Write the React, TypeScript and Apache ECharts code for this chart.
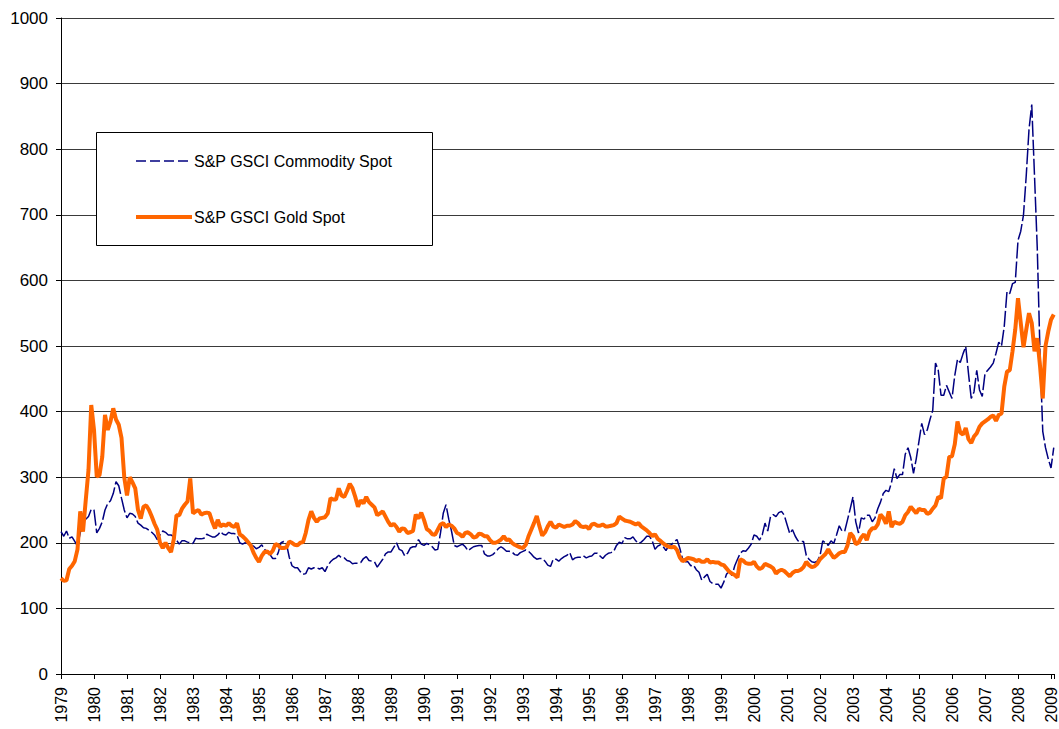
import React, { useEffect, useRef } from 'react';
import * as echarts from 'echarts';

// ---- Data (monthly index levels, Jan 1979 .. Feb 2009) ----
const START_YEAR = 1979;
const X_MIN = 1979;
const X_MAX = 2009.1;
const Y_MIN = 0;
const Y_MAX = 1000;
const Y_STEP = 100;

const seriesNames = ['S&P GSCI Commodity Spot', 'S&P GSCI Gold Spot'];
const seriesColors = ['#000080', '#FF6600'];

const commoditySpot: number[] = [
  // 1979
  217, 210, 218, 207, 209, 202, 195, 215, 234, 236, 240, 251,
  // 1980
  250, 215, 222, 232, 250, 260, 264, 275, 293, 287, 268, 250,
  // 1981
  238, 245, 244, 240, 230, 227, 223, 222, 219, 216, 212, 205,
  // 1982
  212, 218, 216, 212, 212, 209, 204, 198, 203, 203, 201, 200,
  // 1983
  199, 207, 206, 206, 207, 213, 211, 209, 209, 212, 217, 213,
  // 1984
  212, 216, 214, 214, 212, 200, 198, 200, 199, 197, 195, 191,
  // 1985
  193, 197, 190, 186, 182, 176, 176, 185, 200, 202, 198, 178,
  // 1986
  165, 162, 162, 156, 152, 153, 162, 160, 162, 162, 160, 162,
  // 1987
  156, 165, 171, 175, 177, 181, 177, 177, 173, 172, 168, 169,
  // 1988
  169, 170, 176, 179, 173, 172, 171, 163, 169, 175, 183, 186,
  // 1989
  186, 193, 200, 190, 188, 180, 184, 192, 194, 194, 205, 198,
  // 1990
  196, 199, 197, 194, 189, 190, 215, 245, 258, 236, 218, 196,
  // 1991
  194, 196, 198, 194, 188, 191, 194, 195, 196, 196, 183, 180,
  // 1992
  180, 182, 186, 191, 194, 191, 187, 187, 186, 182, 181, 185,
  // 1993
  187, 189, 187, 183, 178, 175, 176, 176, 172, 166, 164, 175,
  // 1994
  175, 172, 176, 179, 181, 185, 174, 177, 178, 178, 180, 177,
  // 1995
  179, 180, 184, 184, 180, 176, 181, 184, 185, 187, 196, 201,
  // 1996
  199, 208, 206, 206, 209, 203, 199, 201, 205, 210, 210, 203,
  // 1997
  190, 195, 197, 194, 188, 196, 197, 202, 205, 192, 176, 171,
  // 1998
  171, 165, 166, 159, 155, 143, 148, 152, 141, 138, 137, 137,
  // 1999
  131, 140, 152, 157, 150, 165, 175, 184, 188, 187, 192, 198,
  // 2000
  212, 210, 204, 212, 230, 218, 240, 243, 240, 246, 248, 242,
  // 2001
  228, 214, 220, 210, 203, 202, 202, 181, 175, 171, 170, 172,
  // 2002
  180, 203, 200, 196, 203, 199, 212, 226, 218, 218, 235, 252,
  // 2003
  270, 232, 215, 238, 236, 242, 242, 232, 238, 252, 262, 275,
  // 2004
  280, 278, 292, 313, 298, 304, 304, 335, 345, 330, 306, 328,
  // 2005
  355, 382, 365, 372, 388, 402, 474, 463, 425, 425, 440, 430,
  // 2006
  420, 455, 480, 475, 488, 499, 458, 420, 430, 463, 433, 423,
  // 2007
  458, 463, 468, 474, 489, 506, 500, 530, 583, 580, 595, 597,
  // 2008
  661, 675, 700, 760, 830, 868, 760, 650, 490, 370, 345, 328,
  // 2009
  314, 345,
];

const goldSpot: number[] = [
  // 1979
  146, 142, 143, 160, 165, 172, 190, 248, 217, 265, 311, 410,
  // 1980
  372, 301, 303, 331, 395, 372, 385, 405, 388, 380, 360, 300,
  // 1981
  272, 300, 292, 283, 250, 237, 255, 257, 250, 240, 229, 220,
  // 1982
  200, 192, 200, 192, 186, 205, 242, 242, 252, 258, 263, 298,
  // 1983
  245, 248, 250, 243, 245, 246, 245, 232, 222, 235, 225, 228,
  // 1984
  226, 230, 226, 224, 230, 213, 210, 206, 201, 196, 185, 177,
  // 1985
  171, 180, 186, 187, 183, 188, 198, 196, 192, 192, 193, 202,
  // 1986
  200, 197, 196, 200, 201, 215, 235, 248, 238, 232, 237, 238,
  // 1987
  239, 245, 268, 266, 266, 283, 272, 270, 279, 290, 283, 270,
  // 1988
  255, 265, 260, 270, 262, 258, 254, 242, 245, 248, 240, 232,
  // 1989
  226, 229, 224, 217, 222, 221, 215, 216, 218, 243, 237, 246,
  // 1990
  235, 221, 218, 213, 212, 220, 228, 230, 224, 228, 226, 222,
  // 1991
  215, 213, 209, 215, 216, 213, 208, 209, 214, 213, 210, 210,
  // 1992
  204, 200, 200, 202, 205, 210, 204, 205, 200, 197, 195, 193,
  // 1993
  192, 197, 210, 220, 230, 241, 225, 211, 216, 225, 232, 225,
  // 1994
  223, 228, 226, 224, 226, 226, 228, 233, 230, 225, 224, 225,
  // 1995
  221, 228, 229, 226, 226, 228, 225, 225, 226, 227, 230, 240,
  // 1996
  237, 234, 233, 232, 230, 228, 230, 225, 222, 219, 215, 210,
  // 1997
  213, 206, 203, 199, 196, 194, 193, 194, 189, 178, 172, 174,
  // 1998
  177, 176, 175, 172, 174, 171, 171, 175, 170, 171, 170, 170,
  // 1999
  167, 166, 161, 156, 153, 151, 147, 175, 173, 169, 168, 168,
  // 2000
  171, 164, 160, 162, 168, 166, 164, 161, 153, 157, 159, 157,
  // 2001
  153, 149, 154, 157, 157, 159, 163, 171, 166, 163, 164, 168,
  // 2002
  175, 179, 183, 190, 183, 177, 180, 184, 186, 186, 196, 215,
  // 2003
  210, 198, 200, 208, 213, 204, 217, 222, 222, 228, 243, 238,
  // 2004
  229, 248, 224, 232, 230, 229, 232, 242, 247, 255, 250, 245,
  // 2005
  252, 250, 250, 244, 246, 252, 257, 270, 268, 298, 301, 331,
  // 2006
  332, 350, 385, 368, 365, 375, 358, 352, 362, 367, 377, 382,
  // 2007
  385, 388, 392, 394, 386, 395, 397, 438, 461, 463, 492, 525,
  // 2008
  573, 535, 498, 525, 550, 535, 492, 512, 470, 420, 500, 522,
  // 2009
  540, 548,
];

const toPoints = (vals: number[]) => vals.map((v, i) => [START_YEAR + i / 12, v]);

const FONT = '"Liberation Sans", Arial, sans-serif';
const COMMODITY_DASH = [16, 3];

export default function App() {
  const ref = useRef<HTMLDivElement>(null);

  useEffect(() => {
    document.body.style.margin = '0';
    if (!ref.current) return;
    const chart = echarts.init(ref.current, undefined, { renderer: 'svg' });
    chart.setOption({
      animation: false,
      backgroundColor: '#ffffff',
      textStyle: { fontFamily: FONT },
      grid: { left: 61, right: 0, top: 18, bottom: 55, containLabel: false },
      xAxis: {
        type: 'value',
        min: X_MIN,
        max: X_MAX,
        interval: 1,
        axisLine: { show: true, lineStyle: { color: '#000', width: 1 } },
        axisTick: { show: true, inside: false, length: 5, lineStyle: { color: '#000' } },
        axisLabel: {
          rotate: 90,
          fontSize: 16,
          fontFamily: FONT,
          color: '#000',
          margin: 13,
          formatter: (v: number) => (Math.abs(v - Math.round(v)) < 1e-6 ? String(Math.round(v)) : ''),
        },
        splitLine: { show: false },
      },
      yAxis: {
        type: 'value',
        min: Y_MIN,
        max: Y_MAX,
        interval: Y_STEP,
        axisLine: { show: true, lineStyle: { color: '#000', width: 1 } },
        axisTick: { show: true, inside: false, length: 5, lineStyle: { color: '#000' } },
        axisLabel: {
          fontSize: 17,
          fontFamily: FONT,
          color: '#000',
          margin: 13,
          formatter: (v: number) => String(v),
        },
        splitLine: { show: true, lineStyle: { color: '#3a3a3a', width: 1 } },
      },
      graphic: [
        {
          type: 'group',
          z: 10,
          children: [
            {
              type: 'rect',
              z: 10,
              shape: { x: 96.5, y: 132.5, width: 336, height: 113 },
              style: { fill: '#ffffff', stroke: '#000000', lineWidth: 1 },
            },
            {
              type: 'line',
              z: 11,
              shape: { x1: 136, y1: 161, x2: 192, y2: 161 },
              style: { stroke: seriesColors[0], lineWidth: 1.5, lineDash: [10, 4] },
            },
            {
              type: 'text',
              z: 11,
              x: 194,
              y: 161,
              style: {
                text: seriesNames[0],
                fill: '#000',
                fontSize: 16,
                fontFamily: FONT,
                verticalAlign: 'middle',
                align: 'left',
              },
            },
            {
              type: 'line',
              z: 11,
              shape: { x1: 136, y1: 217, x2: 192, y2: 217 },
              style: { stroke: seriesColors[1], lineWidth: 4 },
            },
            {
              type: 'text',
              z: 11,
              x: 194,
              y: 217,
              style: {
                text: seriesNames[1],
                fill: '#000',
                fontSize: 16,
                fontFamily: FONT,
                verticalAlign: 'middle',
                align: 'left',
              },
            },
          ],
        },
      ],
      series: [
        {
          name: seriesNames[0],
          type: 'line',
          data: toPoints(commoditySpot),
          symbol: 'none',
          showSymbol: false,
          lineStyle: { color: seriesColors[0], width: 1.5, type: COMMODITY_DASH },
          itemStyle: { color: seriesColors[0] },
          z: 2,
        },
        {
          name: seriesNames[1],
          type: 'line',
          data: toPoints(goldSpot),
          symbol: 'none',
          showSymbol: false,
          lineStyle: { color: seriesColors[1], width: 4 },
          itemStyle: { color: seriesColors[1] },
          z: 3,
        },
      ],
    });
    return () => chart.dispose();
  }, []);

  return <div ref={ref} style={{ width: 1059, height: 729 }} />;
}
